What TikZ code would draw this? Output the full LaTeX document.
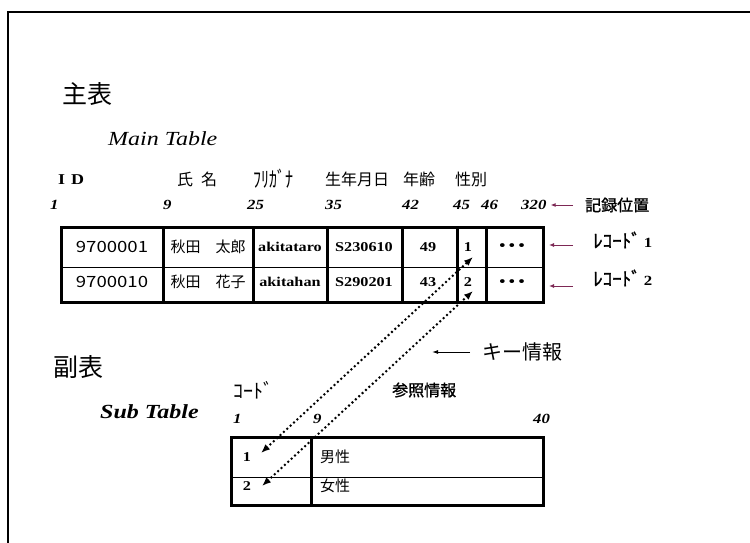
\documentclass[tikz,border=0pt]{standalone}
\usepackage{fontspec}
\setmainfont[FakeStretch=1.2]{Liberation Serif}
\newfontfamily\jp{Noto Sans CJK JP}
\newfontfamily\jpb[FakeBold=1.2]{Noto Sans CJK JP}
\newfontfamily\gd[FakeStretch=1.2]{Noto Sans CJK JP}
\usetikzlibrary{arrows.meta}
\newcommand\fsz[1]{\fontsize{#1}{#1}\selectfont}
\definecolor{recpurple}{RGB}{125,40,85}
\begin{document}
\begin{tikzpicture}[x=1pt,y=-1pt,
  lbl/.style={inner sep=0pt, anchor=west},
  cellc/.style={inner sep=0pt, anchor=center},
  jtitle/.style={lbl, font=\jp\fsz{25}},
  jhead/.style={lbl, font=\jp\fsz{16}},
  jheadb/.style={lbl, font=\jpb\fsz{16}},
  posnum/.style={lbl, font=\fsz{14}\bfseries\itshape},
  bcell/.style={cellc, font=\fsz{13.5}\bfseries},
  gcell/.style={cellc, font=\gd\fsz{15.5}},
  jcell/.style={cellc, font=\jp\fsz{15}},
  dotcell/.style={cellc, font=\fsz{24}\bfseries},
  thickline/.style={line width=3pt},
  thinline/.style={line width=1pt},
  recarr/.style={recpurple, line width=1pt, -{Latex[length=5pt,width=4pt]}},
  keyarr/.style={black, line width=1pt, -{Latex[length=6pt,width=4pt]}},
  linkarr/.style={line width=2.8pt, dash pattern=on 0pt off 4.6pt, line cap=round,
    {Latex[length=9pt,width=7pt]}-{Latex[length=9pt,width=7pt]}}
]
\useasboundingbox (0,0) rectangle (750,543);
\draw[line width=2pt] (8,543) -- (8,12) -- (750,12);

% titles
\node[jtitle] (mainJ) at (62,94) {主表};
\node[lbl, font=\fsz{20}\itshape] (mainE) at (108,139) {Main Table};

% headers
\node[lbl, font=\fsz{15}\bfseries] (hID) at (58,180) {I\hspace{6pt}D};
\node[jhead] (hName) at (177,179) {氏\hspace{8pt}名};
\node[lbl, font=\jp\fsz{16}] (hKana) at (253,179) {\scalebox{1}[1.35]{ﾌﾘｶﾞﾅ}};
\node[jhead] (hBirth) at (325,179) {生年月日};
\node[jhead] (hAge) at (403,179) {年齢};
\node[jhead] (hSex) at (455,179) {性別};

% positions
\node[posnum] (p1) at (50,205) {1};
\node[posnum] (p9) at (163,205) {9};
\node[posnum] (p25) at (247,205) {25};
\node[posnum] (p35) at (325,205) {35};
\node[posnum] (p42) at (402,205) {42};
\node[posnum] (p45) at (453,205) {45};
\node[posnum] (p46) at (481,205) {46};
\node[posnum] (p320) at (521,205) {320};

% main table
\draw[thickline] (61,227) rectangle (543,302);
\foreach \x in {163,253,327,402,457,486} \draw[thickline] (\x,227) -- (\x,302);
\draw[thinline] (61,267) -- (543,267);

\node[gcell] (c11) at (112,247) {9700001};
\node[jcell] (c12) at (208,247) {秋田　太郎};
\node[bcell] (c13) at (290,247) {akitataro};
\node[bcell] (c14) at (364,247) {S230610};
\node[bcell] (c15) at (428,247) {49};
\node[bcell] (c16) at (468,247) {1};
\node[dotcell] (c17) at (512,249) {···};

\node[gcell] (c21) at (112,282) {9700010};
\node[jcell] (c22) at (208,282) {秋田　花子};
\node[bcell] (c23) at (290,282) {akitahan};
\node[bcell] (c24) at (364,282) {S290201};
\node[bcell] (c25) at (428,282) {43};
\node[bcell] (c26) at (468,282) {2};
\node[dotcell] (c27) at (512,285) {···};

% right labels
\node[jheadb] (kiroku) at (585,205) {記録位置};
\node[lbl, font=\jpb\fsz{19}] (rec1) at (593,240) {ﾚｺｰﾄﾞ\,{\rmfamily\bfseries\fsz{14}1}};
\node[lbl, font=\jpb\fsz{19}] (rec2) at (593,278) {ﾚｺｰﾄﾞ\,{\rmfamily\bfseries\fsz{14}2}};
\draw[recarr] ([xshift=-12pt]kiroku.west) -- ([xshift=4pt]p320.east);
\draw[recarr] ([xshift=-20pt,yshift=-5pt]rec1.west) -- ++(-24,0);
\draw[recarr] ([xshift=-20pt,yshift=-8pt]rec2.west) -- ++(-24,0);

% key info
\node[lbl, font=\jp\fsz{20}] (key) at (482,352) {キー情報};
\draw[keyarr] ([xshift=-12pt]key.west) -- ++(-38,0);

% sub part
\node[jtitle] (subJ) at (53,367) {副表};
\node[lbl, font=\fsz{20}\bfseries\itshape] (subE) at (100,412) {Sub Table};
\node[lbl, font=\jp\fsz{20}] (sCode) at (233,390) {ｺｰﾄﾞ};
\node[jheadb] (sRef) at (392,390) {参照情報};
\node[posnum] (q1) at (233,419) {1};
\node[posnum] (q9) at (313,419) {9};
\node[posnum] (q40) at (533,419) {40};

\draw[thickline] (231,437) rectangle (543,505);
\draw[thickline] (311,437) -- (311,505);
\draw[thinline] (231,477) -- (543,477);

\node[bcell] (s1) at (247,457) {1};
\node[bcell] (s2) at (247,486) {2};
\node[lbl, font=\jp\fsz{15}] (s1t) at (320,457) {男性};
\node[lbl, font=\jp\fsz{15}] (s2t) at (320,486) {女性};

% links
\coordinate (aS1) at (261,453);
\coordinate (aM1) at (473,257);
\coordinate (aS2) at (262,486);
\coordinate (aM2) at (473,291);
\draw[linkarr] (aS1) -- (aM1);
\draw[linkarr] (aS2) -- (aM2);
\end{tikzpicture}
\end{document}
